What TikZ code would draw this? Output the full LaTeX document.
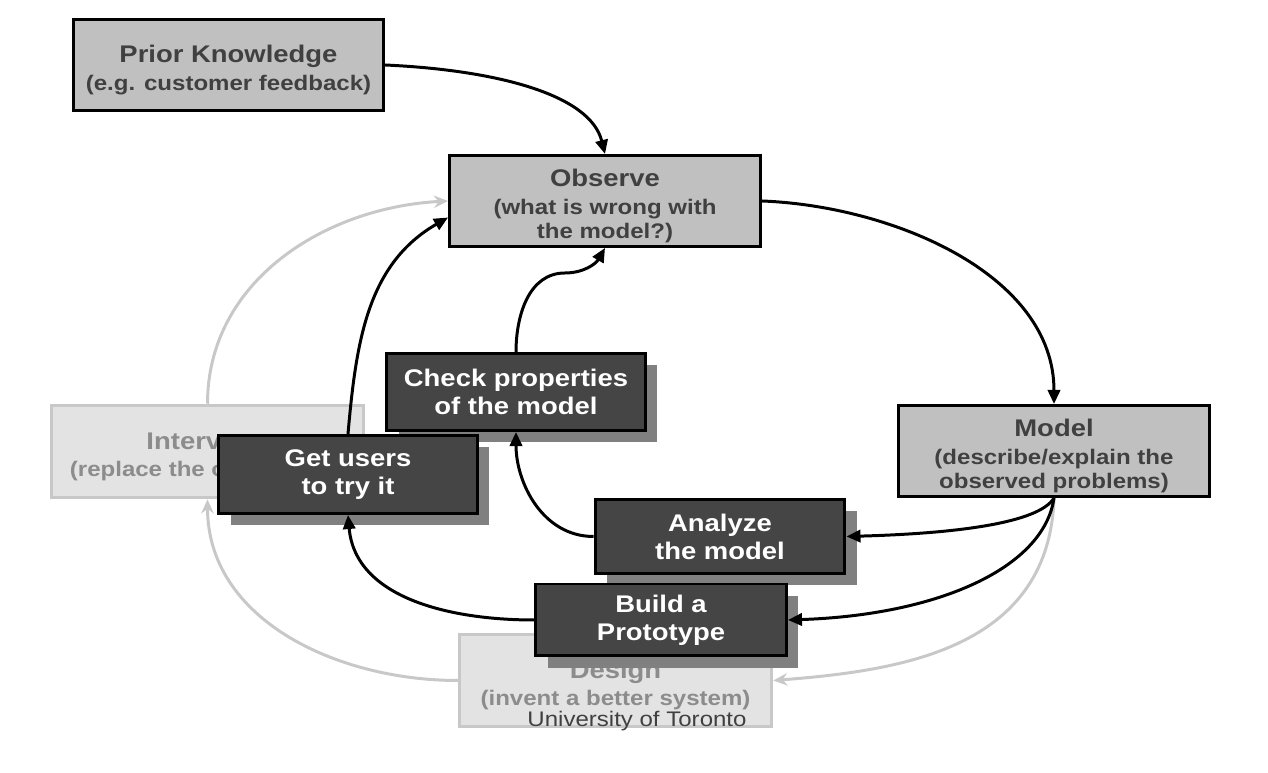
\documentclass[tikz,border=0pt]{standalone}
\usepackage{fontspec}
\setmainfont{Liberation Sans}[FakeStretch=1.14]
\usetikzlibrary{arrows.meta,shadows}
\definecolor{boxgray}{HTML}{C0C0C0}
\definecolor{inkgray}{HTML}{404040}
\definecolor{darkfill}{HTML}{454545}
\definecolor{shadowgray}{HTML}{808080}
\definecolor{fadefill}{HTML}{E3E3E3}
\definecolor{fadeline}{HTML}{C8C8C8}
\definecolor{fadetext}{HTML}{8C8C8C}
\newcommand\boxhead{\fontsize{13.7}{15.9}\selectfont\bfseries}
\newcommand\boxsub{\fontsize{12}{13.8}\selectfont\bfseries}
\newcommand\lift{\rule{0pt}{15.5pt}}
\begin{document}
\begin{tikzpicture}[x=0.02cm, y=0.02cm,
knowbox/.style={draw=black, line width=1.7pt, fill=boxgray, text=inkgray,
  inner sep=0pt, align=center, font=\boxsub},
darkbox/.style={draw=black, line width=1.7pt, fill=darkfill, text=white,
  inner sep=0pt, align=center, font=\boxhead,
  drop shadow={shadow xshift=0.24cm, shadow yshift=-0.24cm, fill=shadowgray, opacity=1}},
fadebox/.style={draw=fadeline, line width=2pt, fill=fadefill, text=fadetext,
  inner sep=0pt, align=center, font=\boxsub,
  minimum width=6.24cm, minimum height=1.84cm},
flow/.style={-{Triangle[length=8pt,width=7pt]}, line width=1.7pt},
fadeflow/.style={-{Stealth[length=8pt,width=7pt]}, line width=1.7pt, draw=fadeline}]
\useasboundingbox (0,0) rectangle (1268,773);
\node[fadebox] (intervene) at (207.5,321.5) {{\lift\boxhead Intervene}\\[2pt](replace the old system)};
\node[fadebox] (design) at (615.5,92.5) {{\lift\boxhead Design}\\[2pt](invent a better system)};
\node[knowbox, minimum width=6.2cm, minimum height=1.82cm] (prior) at (228.5,708)
  {{\lift\boxhead Prior Knowledge}\\[2.5pt](e.g. customer feedback)};
\node[knowbox, minimum width=6.22cm, minimum height=1.82cm] (observe) at (605,572)
  {{\lift\boxhead Observe}\\[2pt](what is wrong with\\the model?)};
\node[knowbox, minimum width=6.22cm, minimum height=1.82cm] (model) at (1054,322)
  {{\lift\boxhead Model}\\[2pt](describe/explain the\\observed problems)};
\draw[fadeflow] (intervene.north) to[out=90,in=183] (observe.west);
\draw[fadeflow] (design.west) to[out=180,in=-90] (intervene.south);
\draw[fadeflow] (model.south) .. controls +(-5,-150) and +(130,10) .. (design.east);
\node[darkbox, minimum width=5.18cm, minimum height=1.54cm] (check) at (516,381)
  {Check properties\\of the model};
\node[darkbox, minimum width=5.18cm, minimum height=1.56cm] (getusers) at (348,298.5)
  {Get users\\to try it};
\node[darkbox, minimum width=5cm, minimum height=1.48cm] (analyze) at (720,236.5)
  {Analyze\\the model};
\node[darkbox, minimum width=5.02cm, minimum height=1.44cm] (build) at (661,153)
  {Build a\\Prototype};
\draw[flow] (prior.east) .. controls +(110,-5) and +(-15,60) .. (observe.north);
\draw[flow] (observe.east) .. controls +(130,-5) and +(0,130) .. (model.north);
\draw[flow] (model.south) .. controls +(-15,-25) and +(110,3) .. (analyze.east);
\draw[flow] (model.south) .. controls +(-10,-70) and +(150,5) .. (build.east);
\draw[flow] (analyze.west) to[out=180,in=-90] (check.south);
\draw[flow] (build.west) to[out=180,in=-85] (getusers.south);
\draw[flow] (check.north) to[out=90,in=180] (565,500) to[out=0,in=-120] (observe.south);
\draw[flow] (getusers.north) to[out=85,in=-150] (observe.186);
\node[anchor=base, font=\fontsize{12}{14}\selectfont, text=inkgray] (footer) at (637,46)
  {University of Toronto};
\end{tikzpicture}
\end{document}
